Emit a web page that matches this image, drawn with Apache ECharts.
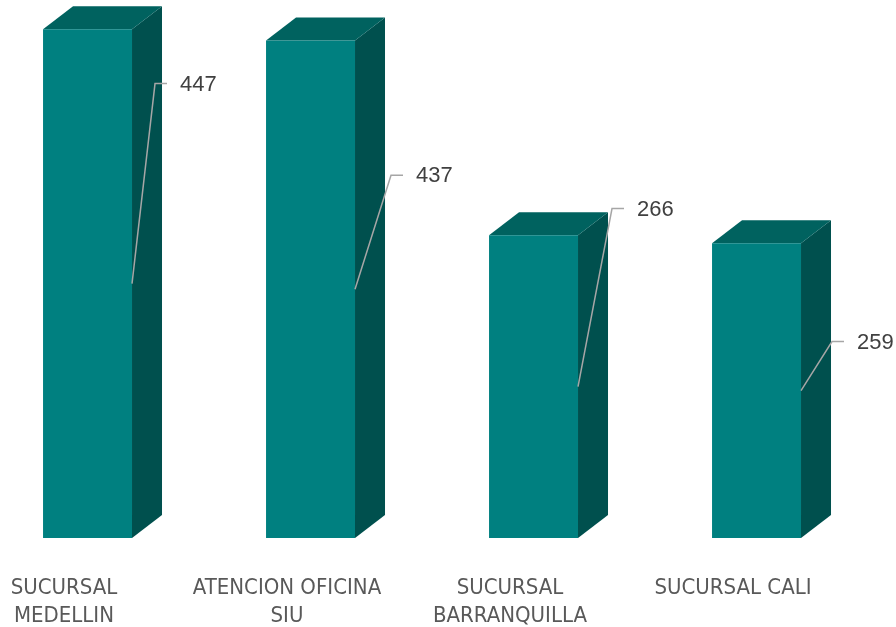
<!DOCTYPE html>
<html>
<head>
<meta charset="utf-8">
<script src="https://cdn.jsdelivr.net/npm/echarts@6/dist/echarts.min.js"></script>
<style>
  html, body { margin: 0; padding: 0; background: #ffffff; }
  #chart { width: 896px; height: 627px; }
</style>
</head>
<body>
<div id="chart"></div>
<script>
// ---- data ----
const categories = ["SUCURSAL MEDELLIN", "ATENCION OFICINA SIU", "SUCURSAL BARRANQUILLA", "SUCURSAL CALI"];
const tickLabels = ["SUCURSAL\nMEDELLIN", "ATENCION OFICINA\nSIU", "SUCURSAL\nBARRANQUILLA", "SUCURSAL CALI"];
const values = [447, 437, 266, 259];

// ---- layout / style constants ----
const labelKnee = [[23, -200], [36, -114], [34, -178], [31, -49]]; // leader-line knee offsets (px) from bar anchor
const COLORS = { front: '#008080', top: '#00625F', side: '#00504E', leader: '#A6A6A6', value: '#404040', axis: '#595959' };

const chart = echarts.init(document.getElementById('chart'), null, { renderer: 'canvas' });

function renderItem(params, api) {
  const idx = params.dataIndex;
  const v = api.value(1);
  const topPt = api.coord([api.value(0), v]);
  const basePt = api.coord([api.value(0), 0]);
  const band = api.size([1, 0])[0];
  const w = band * 0.399;
  const left = topPt[0] - band * 0.307;
  const dx = band * 0.1345;
  const dy = -23;
  const yt = topPt[1], yb = basePt[1];
  const right = left + w;

  const anchor = [right, (yt + yb) / 2];
  const k = labelKnee[idx];
  const knee = [anchor[0] + k[0], anchor[1] + k[1]];
  const end = [knee[0] + 12, knee[1]];

  return {
    type: 'group',
    children: [
      { type: 'polygon', shape: { points: [[right, yt], [right + dx, yt + dy], [right + dx, yb + dy], [right, yb]] }, style: { fill: COLORS.side } },
      { type: 'polygon', shape: { points: [[left, yt], [left + dx, yt + dy], [right + dx, yt + dy], [right, yt]] }, style: { fill: COLORS.top } },
      { type: 'rect', shape: { x: left, y: yt, width: w, height: yb - yt }, style: { fill: COLORS.front } },
      { type: 'polyline', shape: { points: [anchor, knee, end] }, style: { stroke: COLORS.leader, lineWidth: 1.5, fill: null } },
      { type: 'text', x: knee[0] + 25, y: knee[1] + 1, style: { text: String(v), fill: COLORS.value, font: '22px "Liberation Sans"', textAlign: 'left', textVerticalAlign: 'middle' } }
    ]
  };
}

chart.setOption({
  animation: false,
  backgroundColor: '#ffffff',
  grid: { left: 0, right: 4, top: 3, bottom: 89, containLabel: false, outerBoundsMode: 'none' },
  xAxis: {
    type: 'category',
    data: categories,
    boundaryGap: true,
    axisLine: { show: false },
    axisTick: { show: false },
    splitLine: { show: false },
    axisLabel: {
      interval: 0,
      margin: 36,
      color: COLORS.axis,
      fontFamily: '"DejaVu Sans Condensed", "Liberation Sans", sans-serif',
      fontSize: 22,
      lineHeight: 28,
      padding: [0, 95, 0, 0],
      formatter: (val) => tickLabels[categories.indexOf(val)]
    }
  },
  yAxis: { type: 'value', min: 0, max: 470, show: false, splitLine: { show: false } },
  series: [{
    type: 'custom',
    clip: false,
    renderItem: renderItem,
    encode: { x: 0, y: 1 },
    data: values.map((v, i) => [i, v])
  }]
});
</script>
</body>
</html>
